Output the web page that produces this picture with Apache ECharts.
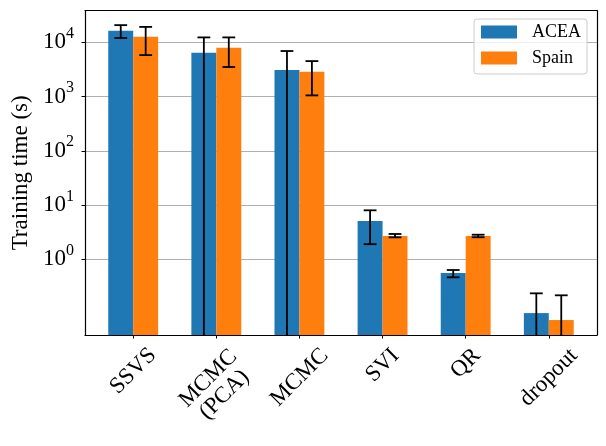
<!DOCTYPE html>
<html lang="en">
<head>
<meta charset="UTF-8">
<title>Training time</title>
<script src="https://cdn.jsdelivr.net/npm/echarts@6/dist/echarts.min.js"></script>
<style>
    html, body { margin: 0; padding: 0; background: #ffffff; }
    #chart { width: 606px; height: 446px; }
</style>
</head>
<body>
<div id="chart"></div>
<script>
// x 轴的方法名
var methods = ['SSVS', 'MCMC\n(PCA)', 'MCMC', 'SVI', 'QR', 'dropout'];
var xTicks = [0, 1, 2, 3, 4, 5];
var yTicks = [1, 10, 100, 1000, 10000];

// 训练时间 (s)，0 表示误差下界低于坐标轴
var acea = [16300, 6400, 3100, 5.1, 0.56, 0.102];
var aceaLow = [12000, 0, 0, 1.9, 0.466, 0];
var aceaHigh = [20700, 12300, 6900, 8.0, 0.635, 0.236];
var spain = [12600, 7900, 2850, 2.69, 2.69, 0.076];
var spainLow = [5800, 3500, 1050, 2.54, 2.55, 0];
var spainHigh = [19200, 12300, 4500, 2.93, 2.84, 0.217];

var FONT = '"Liberation Serif", "Times New Roman", serif';
var BAR_W = 0.3;
var BLUE = '#1f77b4', ORANGE = '#ff7f0e';

// 旋转后的标签按宽度做偏移，让中心落在刻度正下方
var ctx = document.createElement('canvas').getContext('2d');
ctx.font = '23px ' + FONT;
var xRich = {};
var xLabels = methods.map(function (name, i) {
    var lines = name.split('\n');
    var w = Math.max.apply(null, lines.map(function (s) { return ctx.measureText(s).width; }));
    var p = Math.round(w / 2 + (lines.length - 1) * 13);
    xRich['f' + i] = { fontFamily: FONT, fontSize: 23, color: '#000', padding: [p, p, 0, 0] };
    xRich['n' + i] = { fontFamily: FONT, fontSize: 23, color: '#000', padding: [0, p, 0, 0] };
    return lines.map(function (s, k) {
        return '{' + (k === 0 ? 'f' : 'n') + i + '|' + s + '}';
    }).join('\n');
});

function pairs(vals) {
    return vals.map(function (v, i) { return [i, v]; });
}
function errPairs(lo, hi) {
    return lo.map(function (v, i) { return [i, v, hi[i]]; });
}

function barItem(offset) {
    return function (params, api) {
        var i = api.value(0);
        var top = api.coord([i + offset, api.value(1)]);
        var w = Math.abs(api.coord([i + BAR_W, 1])[0] - api.coord([i, 1])[0]);
        var cs = params.coordSys;
        return {
            type: 'rect',
            shape: { x: top[0] - w / 2, y: top[1], width: w, height: cs.y + cs.height - top[1] },
            style: { fill: api.visual('color') }
        };
    };
}

function errItem(offset) {
    return function (params, api) {
        var i = api.value(0), lo = api.value(1), hi = api.value(2);
        var cs = params.coordSys;
        var pHi = api.coord([i + offset, hi]);
        var x = pHi[0];
        var yLo = lo > 0 ? api.coord([i + offset, lo])[1] : cs.y + cs.height;
        var st = { stroke: '#000', lineWidth: 1.8 };
        var kids = [
            { type: 'line', shape: { x1: x, y1: pHi[1], x2: x, y2: yLo }, style: st },
            { type: 'line', shape: { x1: x - 6.4, y1: pHi[1], x2: x + 6.4, y2: pHi[1] }, style: st }
        ];
        if (lo > 0) {
            kids.push({ type: 'line', shape: { x1: x - 6.4, y1: yLo, x2: x + 6.4, y2: yLo }, style: st });
        }
        return { type: 'group', children: kids };
    };
}

var yMin = Math.pow(10, -1.395), yMax = Math.pow(10, 4.582);
var frameLine = { show: true, onZero: false, lineStyle: { color: '#000', width: 1.2 } };

var option = {
    animation: false,
    backgroundColor: '#ffffff',
    grid: { left: 85, right: 9, top: 10.7, bottom: 111 },
    legend: {
        orient: 'vertical', right: 19, top: 19,
        data: [{ name: 'ACEA', icon: 'rect' }, { name: 'Spain', icon: 'rect' }],
        itemWidth: 36, itemHeight: 13, itemGap: 6,
        padding: [3, 6, 6, 7],
        borderColor: '#cccccc', borderWidth: 1, borderRadius: 3,
        backgroundColor: 'rgba(255,255,255,0.8)',
        textStyle: { fontFamily: FONT, fontSize: 18, color: '#000', lineHeight: 20, padding: [0, 0, 0, 10] }
    },
    xAxis: [{
        type: 'value', min: -0.58, max: 5.58, z: 5,
        axisLine: frameLine,
        axisTick: { show: true, length: 3.5, customValues: xTicks, lineStyle: { color: '#000', width: 1 } },
        axisLabel: {
            customValues: xTicks, rotate: 45, align: 'center', verticalAlign: 'middle', margin: 17,
            formatter: function (v) { return xLabels[v]; },
            rich: xRich
        },
        splitLine: { show: false }
    }, {
        type: 'value', position: 'top', min: -0.58, max: 5.58,
        axisLine: frameLine, axisTick: { show: false }, axisLabel: { show: false }, splitLine: { show: false }
    }],
    yAxis: [{
        type: 'log', logBase: 10, min: yMin, max: yMax,
        name: 'Training time (s)', nameLocation: 'middle', nameGap: 50,
        nameTextStyle: { fontFamily: FONT, fontSize: 23, color: '#000' },
        axisLine: frameLine,
        axisTick: { show: true, length: 3.5, customValues: yTicks, lineStyle: { color: '#000', width: 1 } },
        axisLabel: {
            customValues: yTicks, margin: 11,
            formatter: function (v) { return '{b|10}{s|' + Math.round(Math.log10(v)) + '}'; },
            rich: {
                b: { fontFamily: FONT, fontSize: 23, lineHeight: 33, color: '#000' },
                s: { fontFamily: FONT, fontSize: 16, lineHeight: 16, verticalAlign: 'top', color: '#000' }
            }
        },
        splitLine: { show: true, lineStyle: { color: '#b0b0b0', width: 1 } }
    }, {
        type: 'log', logBase: 10, position: 'right', min: yMin, max: yMax,
        axisLine: frameLine, axisTick: { show: false }, axisLabel: { show: false }, splitLine: { show: false }
    }],
    series: [
        { name: 'ACEA', type: 'custom', itemStyle: { color: BLUE }, encode: { x: 0, y: 1 },
          data: pairs(acea), renderItem: barItem(-BAR_W / 2), z: 2 },
        { name: 'Spain', type: 'custom', itemStyle: { color: ORANGE }, encode: { x: 0, y: 1 },
          data: pairs(spain), renderItem: barItem(BAR_W / 2), z: 2 },
        { name: 'ACEA err', type: 'custom', encode: { x: 0, y: [1, 2] },
          data: errPairs(aceaLow, aceaHigh), renderItem: errItem(-BAR_W / 2), z: 3 },
        { name: 'Spain err', type: 'custom', encode: { x: 0, y: [1, 2] },
          data: errPairs(spainLow, spainHigh), renderItem: errItem(BAR_W / 2), z: 3 }
    ]
};

var myChart = echarts.init(document.getElementById('chart'));
myChart.setOption(option);
</script>
</body>
</html>
